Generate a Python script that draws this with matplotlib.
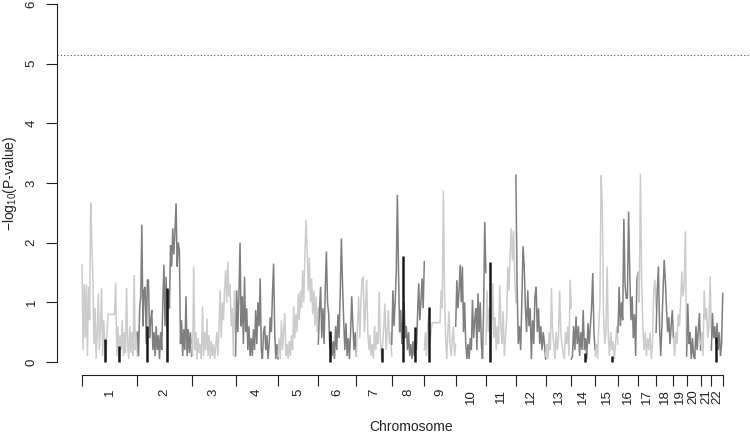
import numpy as np
import matplotlib
matplotlib.use("Agg")
import matplotlib.pyplot as plt

plt.rcParams['font.family'] = ['Liberation Sans', 'DejaVu Sans']
plt.rcParams['mathtext.default'] = 'regular'

# ---------------- data ----------------
chrom_names = ['1', '2', '3', '4', '5', '6', '7', '8', '9', '10', '11',
               '12', '13', '14', '15', '16', '17', '18', '19', '20', '21', '22']
chrom_len_mb = [249.25, 243.20, 198.02, 191.15, 180.92, 171.12, 159.14, 146.36,
                141.21, 135.53, 135.01, 133.85, 115.17, 107.35, 102.53, 90.35,
                81.20, 78.08, 59.13, 63.03, 48.13, 51.30]

chr1 = [1.63, 0.2, 1.3, 0.4, 1.3, 0.1, 1.26, 0.7, 2.67, 2.05, 1.43, 0.3, 0.9, 0.05,
        0.5, 1.15, 0.2, 0.6, 1.24, 0.1, 0.7, 0.3, 0.05, 0.5, 0.8, 0.8, 0.8, 0.8, 0.8,
        0.8, 0.8, 1.33, 0.1, 0.6, 0.05, 0.45, 0.2, 0.7, 0.1, 0.5, 0.15, 1.24, 0.3,
        0.05, 0.6, 0.15, 0.5, 0.1, 1.46, 0.2, 0.5, 0.1]
chr2 = [0.5, 0.1, 0.9, 1.1, 2.3, 0.6, 1.2, 1.26, 0.3, 1.38, 1.37, 0.4, 0.7, 0.87, 0.2,
        0.5, 0.1, 0.6, 0.2, 0.45, 0.05, 0.5, 0.2, 1.0, 1.63, 0.6, 1.43, 0.5, 1.2, 0.9,
        1.96, 1.6, 2.24, 1.8, 2.2, 2.66, 1.6, 2.0, 1.88, 0.3, 0.7, 0.1, 0.55, 0.2, 1.1,
        0.1, 0.55, 0.15, 0.5, 0.1]
chr3 = [0.3, 0.1, 1.6, 0.2, 0.5, 0.05, 0.4, 0.15, 0.3, 0.05, 0.93, 0.1, 0.5, 0.2, 0.73,
        0.1, 0.45, 0.05, 0.35, 0.1, 0.3, 0.05, 0.25, 0.5, 0.1, 0.6, 1.2, 0.4, 1.0, 0.7,
        1.2, 1.54, 1.0, 1.68, 1.1, 1.3, 0.6, 0.9, 0.1, 1.2, 0.5]
chr4 = [0.1, 1.2, 0.5, 1.1, 2.0, 0.6, 1.1, 0.3, 1.43, 0.5, 0.9, 0.2, 0.6, 0.1, 0.4, 0.1,
        0.55, 0.2, 0.87, 0.3, 1.0, 0.6, 1.4, 0.2, 0.05, 0.5, 0.6, 0.2, 0.45, 0.05, 0.3,
        0.75, 0.5, 1.15, 1.65, 0.5, 0.05, 0.3, 0.05]
chr5 = [0.1, 0.4, 0.05, 0.7, 0.2, 0.5, 0.82, 0.1, 0.3, 0.05, 0.35, 0.1, 0.45, 0.2, 0.93,
        0.4, 0.8, 0.5, 1.15, 0.7, 1.2, 0.9, 1.54, 1.0, 1.8, 2.38, 1.88, 1.2, 1.75, 1.0,
        1.4, 0.8, 1.2, 0.6, 1.1, 0.5, 0.9]
chr6 = [0.3, 0.87, 1.26, 0.4, 0.9, 0.3, 1.2, 1.85, 1.0, 0.8, 0.2, 0.45, 0.1, 0.35, 0.05,
        0.6, 0.2, 0.8, 0.4, 1.15, 2.07, 1.3, 0.7, 0.2, 0.65, 0.1, 0.4, 0.05, 0.5, 1.1,
        0.6, 0.2, 0.5, 0.1]
chr7 = [0.1, 0.6, 1.1, 0.4, 1.0, 1.38, 1.43, 0.5, 0.9, 1.38, 0.5, 0.2, 0.45, 0.1, 0.3,
        0.05, 0.6, 0.2, 0.5, 0.3, 1.18, 0.4, 0.05, 0.3, 0.6, 0.98, 0.2, 0.5, 0.87, 0.3,
        0.5, 0.1]
chr8 = [0.3, 1.2, 0.6, 1.0, 1.49, 2.8, 1.54, 0.5, 0.87, 0.3, 0.7, 1.0, 0.4, 0.6, 0.2,
        0.5, 0.1, 0.3, 0.05, 0.35, 0.1, 0.45, 0.2, 0.8, 1.32, 0.7, 1.0, 1.4, 0.9, 1.68]
chr9 = [0.2, 0.5, 0.1, 0.6, 0.8, 0.3, 0.5, 0.66, 0.66, 0.66, 0.66, 0.66, 0.66, 0.66,
        0.66, 1.2, 0.9, 2.87, 1.2, 0.4, 0.05, 0.5, 0.85, 0.3, 0.1, 0.4, 0.6, 0.1, 0.3]
chr10 = [0.6, 1.37, 0.9, 1.2, 1.63, 1.0, 1.6, 0.5, 1.0, 0.3, 0.05, 0.3, 0.05, 0.4, 0.2,
         1.04, 0.4, 0.7, 0.9, 0.2, 1.15, 0.5, 1.0, 0.3, 0.05, 0.9, 2.35, 1.5]
chr11 = [0.3, 1.2, 0.5, 0.9, 0.05, 0.5, 1.32, 0.4, 0.75, 0.2, 0.6, 0.3, 1.29, 0.6, 0.3,
         0.85, 0.1, 0.4, 0.7, 1.6, 1.2, 1.8, 2.24, 1.7, 2.2, 1.4, 1.0]
chr12 = [3.13, 1.3, 0.3, 0.6, 0.2, 1.0, 1.94, 1.6, 0.9, 0.5, 1.2, 0.6, 0.9, 0.05, 0.7,
         0.3, 1.1, 1.26, 0.5, 0.9, 0.3, 0.6, 0.2, 0.5, 0.3, 0.05]
chr13 = [0.1, 0.3, 0.05, 0.5, 0.2, 1.24, 0.5, 0.3, 0.05, 0.5, 0.2, 0.4, 1.2, 0.5, 0.3,
         0.15, 0.05, 0.5, 0.3, 0.6, 0.1, 1.38, 0.9]
chr14 = [0.05, 0.1, 0.6, 0.2, 0.76, 0.3, 0.6, 0.1, 0.5, 0.2, 0.87, 0.2, 0.4, 0.05, 0.65,
         0.3, 0.6, 0.9, 1.49, 0.5, 0.2]
chr15 = [0.1, 0.3, 0.05, 0.6, 1.0, 3.13, 2.55, 0.8, 0.3, 0.5, 1.6, 0.4, 0.1, 0.5, 0.2,
         0.35, 0.05, 0.3, 0.6, 0.3]
chr16 = [0.5, 1.26, 0.6, 1.0, 0.7, 2.4, 1.3, 1.07, 1.07, 2.52, 1.5, 0.7, 1.1, 0.4, 0.8,
         0.1, 1.38, 1.5]
chr17 = [1.5, 1.0, 3.16, 1.4, 0.6, 0.2, 0.5, 0.1, 0.4, 0.2, 0.5, 0.05, 0.3, 1.2, 1.38,
         0.9]
chr18 = [0.5, 1.2, 1.6, 0.6, 0.1, 0.6, 1.2, 1.71, 1.35, 0.9, 0.5, 0.75, 0.3, 0.6, 0.87,
         0.4]
chr19 = [0.4, 0.1, 0.5, 0.3, 0.8, 0.6, 1.0, 1.52, 1.1, 1.3, 2.19, 0.2]
chr20 = [0.1, 0.98, 0.3, 0.5, 0.05, 0.4, 0.1, 0.05, 0.6, 0.2, 0.54, 0.82, 0.2]
chr21 = [0.3, 0.5, 0.1, 1.2, 0.7, 0.9, 0.4, 0.6, 1.43, 0.5]
chr22 = [0.2, 0.82, 0.4, 0.6, 0.3, 0.65, 0.2, 0.5, 0.1, 0.3, 1.15]

chrom_values = [chr1, chr2, chr3, chr4, chr5, chr6, chr7, chr8, chr9, chr10, chr11,
                chr12, chr13, chr14, chr15, chr16, chr17, chr18, chr19, chr20, chr21, chr22]

# highlighted markers (dark bars)
bar_chrom = [1, 1, 2, 2, 6, 7, 8, 8, 9, 11, 14, 15, 22]
bar_pos_mb = [104.8, 165.0, 44.4, 134.3, 52.5, 115.2, 51.9, 104.5, 22.4, 16.4, 61.3, 74.9, 21.0]
bar_vals = [0.38, 0.27, 0.6, 1.24, 0.52, 0.23, 1.78, 0.59, 0.93, 1.68, 0.15, 0.1, 0.42]

threshold = 5.15

# ---------------- figure ----------------
W, H = 750, 437
fig = plt.figure(figsize=(W / 100, H / 100), dpi=100)
ax = fig.add_axes([0, 0, 1, 1])

px_per_mb = 0.2224
x0_px = 82.0
def px2mb(px):
    return (px - x0_px) / px_per_mb

y0_px = 362.0
px_per_unit = 59.67
def py2val(py):
    return (y0_px - py) / px_per_unit

ax.set_xlim(px2mb(0), px2mb(W))
ax.set_ylim(py2val(H), py2val(0))

light = '#CCCCCC'
mid = '#7F7F7F'

offsets = np.concatenate([[0], np.cumsum(chrom_len_mb)])
for i, vals in enumerate(chrom_values):
    xs = offsets[i] + np.linspace(0, chrom_len_mb[i], len(vals))
    ax.plot(xs, vals, color=light if i % 2 == 0 else mid, lw=1.1,
            solid_joinstyle='miter', zorder=2)

for c, p, v in zip(bar_chrom, bar_pos_mb, bar_vals):
    x = offsets[c - 1] + p
    ax.plot([x, x], [0, v], color='#1A1A1A', lw=1.8, solid_capstyle='butt', zorder=3)

left_x = px2mb(57)
ax.plot([left_x, px2mb(W)], [threshold, threshold], color='#555555', lw=0.8,
        ls=(0, (1, 2)), zorder=1)

# spines / axes
for s in ['top', 'right']:
    ax.spines[s].set_visible(False)
ax.spines['left'].set_position(('data', left_x))
ax.spines['left'].set_bounds(0, 6)
ax.spines['bottom'].set_position(('data', py2val(375)))
ax.spines['bottom'].set_bounds(offsets[0], offsets[-1])
for s in ['left', 'bottom']:
    ax.spines[s].set_linewidth(0.8)
    ax.spines[s].set_color('#222222')

ax.set_yticks(range(0, 7))
ax.set_yticklabels([str(v) for v in range(0, 7)], rotation=90, va='center',
                   fontsize=9.5)
ax.tick_params(axis='y', length=8, width=0.8, pad=6, colors='#222222')
ax.set_xticks(offsets)
ax.set_xticklabels([])
ax.tick_params(axis='x', length=8, width=0.8, colors='#222222')

mids = (offsets[:-1] + offsets[1:]) / 2
for m, name in zip(mids, chrom_names):
    ax.text(m, py2val(389), name, rotation=90, ha='center', va='top',
            fontsize=9.5, color='#222222')

fig.text(411 / W, 1 - 427 / H, 'Chromosome', ha='center', va='center',
         fontsize=10, color='#222222')
fig.text(10 / W, 1 - 183 / H, '\u2212log$_{10}$(P-value)', rotation=90,
         ha='center', va='center', fontsize=10, color='#222222')

fig.savefig('out.png', dpi=100)
